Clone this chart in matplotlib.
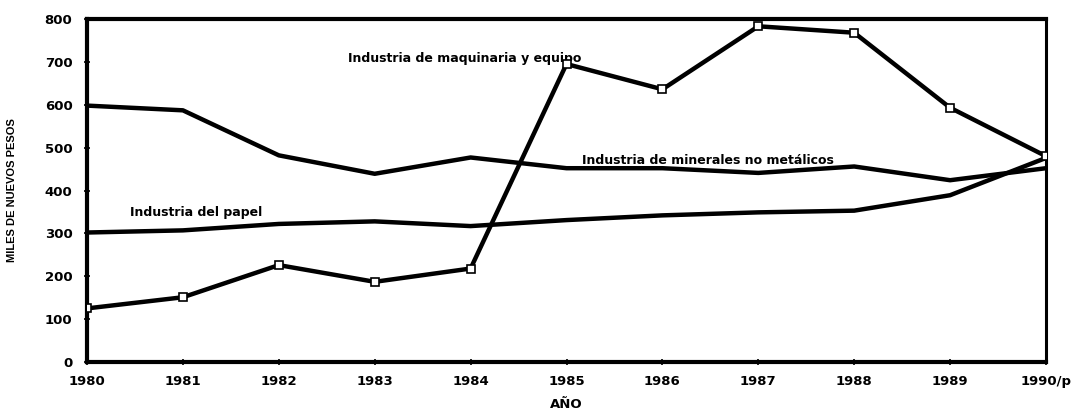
import matplotlib.pyplot as plt

years = ["1980", "1981", "1982", "1983", "1984", "1985", "1986", "1987", "1988", "1989", "1990/p"]
minerales = [598, 587, 482, 439, 477, 452, 452, 441, 456, 424, 452]
papel = [302, 307, 322, 328, 317, 331, 342, 349, 353, 389, 476]
maquinaria = [125, 151, 226, 187, 218, 695, 636, 783, 768, 593, 480]
yticks = [0, 100, 200, 300, 400, 500, 600, 700, 800]

plt.rcParams['font.family'] = ['DejaVu Sans']

fig = plt.figure(figsize=(10.75, 4.19), dpi=100)
ax = fig.add_axes([87 / 1075, 1 - 362 / 419, (1046 - 87) / 1075, (362 - 19) / 419])

x = list(range(len(years)))
ax.plot(x, minerales, color="black", lw=3.2, solid_joinstyle="round", zorder=3)
ax.plot(x, papel, color="black", lw=3.2, solid_joinstyle="round", zorder=3)
ax.plot(x, maquinaria, color="black", lw=3.2, solid_joinstyle="round", zorder=4,
        marker="s", markersize=6, markerfacecolor="white", markeredgecolor="black",
        markeredgewidth=1.2)

ax.set_xlim(0, len(years) - 1)
ax.set_ylim(0, 800)
ax.set_xticks(x)
ax.set_xticklabels(years, fontsize=9.5, fontweight="bold")
ax.set_yticks(yticks)
ax.set_yticklabels([str(v) for v in yticks], fontsize=9.5, fontweight="bold")
ax.tick_params(axis="both", direction="inout", length=5, width=1.2)
ax.tick_params(axis="y", pad=8)
ax.tick_params(axis="x", pad=7)

for side in ["left", "bottom", "top"]:
    ax.spines[side].set_linewidth(3.0)
ax.spines["right"].set_linewidth(2.2)

ax.set_ylabel("MILES DE NUEVOS PESOS", fontsize=8, fontweight="bold", labelpad=20,
              family="Liberation Sans")
ax.set_xlabel("AÑO", fontsize=9.5, fontweight="bold", labelpad=7)

ax.text(2.72, 708, "Industria de maquinaria y equipo", fontsize=9, fontweight="bold",
        va="center", ha="left")
ax.text(5.16, 470, "Industria de minerales no metálicos", fontsize=9, fontweight="bold",
        va="center", ha="left")
ax.text(0.45, 348, "Industria del papel", fontsize=9, fontweight="bold",
        va="center", ha="left")

fig.savefig("out.png", dpi=100)
